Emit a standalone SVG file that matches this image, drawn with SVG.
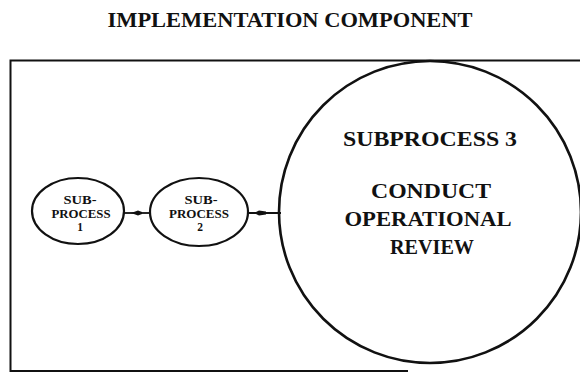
<svg xmlns="http://www.w3.org/2000/svg" width="580" height="373" viewBox="0 0 580 373">
<style>
.t{font-family:"Liberation Serif","Times New Roman",serif;font-weight:bold;fill:#111;text-anchor:middle}
.big{font-size:21px}
.sm{font-size:11.5px}
.shape{fill:none;stroke:#111}
.conn{stroke:#111;stroke-width:1.8;fill:none}
.head{fill:#111;stroke:none}
</style>
<rect width="580" height="373" fill="#fff"/>
<text id="title" class="t" x="290" y="27" font-size="21" textLength="365" lengthAdjust="spacingAndGlyphs">IMPLEMENTATION COMPONENT</text>
<g id="frame"><path class="shape" stroke-width="2" d="M580 60.5 H10.5 V371 H408"/></g>
<g id="connectors">
<line class="conn" x1="124" y1="213" x2="151" y2="213"/>
<path class="head" d="M131 213 L138 210.5 L142 212 L142 214 L138 215.5 Z"/>
<line class="conn" x1="247" y1="213" x2="281" y2="213"/>
<path class="head" d="M254 213 L259 210.5 L266 211.5 L266 214.5 L259 215.5 Z"/>
</g>
<g id="sub1">
<ellipse class="shape" stroke-width="2.2" cx="78" cy="211" rx="46" ry="33"/>
<text class="t sm" x="80" y="204" textLength="33" lengthAdjust="spacingAndGlyphs">SUB-</text>
<text class="t sm" x="81" y="217.5" textLength="59" lengthAdjust="spacingAndGlyphs">PROCESS</text>
<text class="t sm" x="80" y="231">1</text>
</g>
<g id="sub2">
<ellipse class="shape" stroke-width="2.2" cx="199" cy="212" rx="49" ry="34"/>
<text class="t sm" x="201" y="204" textLength="33" lengthAdjust="spacingAndGlyphs">SUB-</text>
<text class="t sm" x="199" y="217.5" textLength="60" lengthAdjust="spacingAndGlyphs">PROCESS</text>
<text class="t sm" x="200" y="231">2</text>
</g>
<g id="sub3">
<circle class="shape" stroke-width="2.6" cx="430" cy="212" r="151"/>
<text class="t big" x="430" y="146" textLength="174" lengthAdjust="spacingAndGlyphs">SUBPROCESS 3</text>
<text class="t big" x="431" y="198" textLength="120" lengthAdjust="spacingAndGlyphs">CONDUCT</text>
<text class="t big" x="428" y="226" textLength="167" lengthAdjust="spacingAndGlyphs">OPERATIONAL</text>
<text class="t big" x="432" y="254" textLength="84" lengthAdjust="spacingAndGlyphs">REVIEW</text>
</g>
</svg>
